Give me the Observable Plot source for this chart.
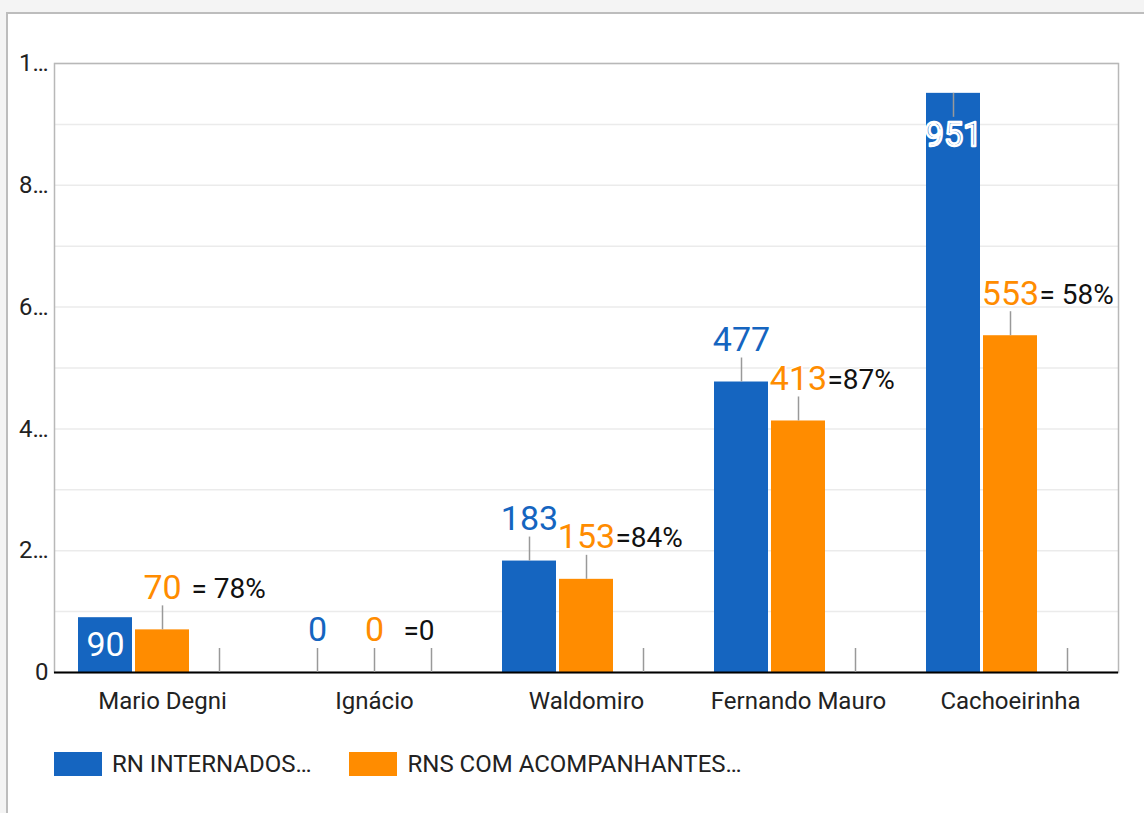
<!DOCTYPE html>
<html>
<head>
<meta charset="utf-8">
<script src="https://cdn.jsdelivr.net/npm/d3@7"></script>
<script src="https://cdn.jsdelivr.net/npm/@observablehq/plot@0.6"></script>
<style>
  html, body { margin: 0; padding: 0; background: #f4f4f4; font-family: Roboto, "Noto Sans", sans-serif; }
  #page { position: relative; width: 1144px; height: 813px; overflow: hidden; }
  #panel { position: absolute; left: 6px; top: 12px; width: 1200px; height: 900px; background: #fff;
           border-left: 2px solid #bdbdbd; border-top: 2px solid #bdbdbd; }
  #chart { position: absolute; left: 0; top: 0; }
  #legend { position: absolute; left: 54px; top: 752px; display: flex; align-items: center;
            font-size: 24px; color: #222; font-family: Roboto, sans-serif; }
  .sw { width: 48px; height: 24px; margin-right: 10px; }
  .item { display: flex; align-items: center; margin-right: 38px; line-height: 24px; }
</style>
</head>
<body>
<div id="page">
  <div id="panel"></div>
  <div id="chart"></div>
  <div id="legend"></div>
</div>
<script>
// ---- data ----
const groups = ["Mario Degni", "Ignácio", "Waldomiro", "Fernando Mauro", "Cachoeirinha"];
const internados = [90, 0, 183, 477, 951];
const acompanhantes = [70, 0, 153, 413, 553];
const ratioValues = [0, 0, 0, 0, 0];
const ratioLabels = ["= 78%", "=0", "=84%", "=87%", "= 58%"];
const seriesNames = ["RN INTERNADOS…", "RNS COM ACOMPANHANTES…"];
const yTicks = [0, 200, 400, 600, 800, 1000];
const yGrid = [100, 200, 300, 400, 500, 600, 700, 800, 900, 1000];

const BLUE = "#1565c0", ORANGE = "#ff8c00";

const blue = groups.map((g, i) => ({group: g, value: internados[i], other: acompanhantes[i]}));
const orange = groups.map((g, i) => ({group: g, value: acompanhantes[i]}));
const ratio = groups.map((g, i) => ({group: g, value: ratioValues[i], label: ratioLabels[i], anchorValue: acompanhantes[i]}));

// label placement rules (Google-style): no room above -> inside top; collides with neighbour -> centered inside
const insideTop = d => d.value >= 900;
const insideCenter = d => d.value > 0 && d.value - d.other < 25;
const blueAbove = blue.filter(d => !insideTop(d) && !insideCenter(d));
const blueTop = blue.filter(insideTop);
const blueCenter = blue.filter(insideCenter);

const STEP = 57, INSET = 79, STEM = 24, LDY = 42;

const chart = Plot.plot({
  width: 1144,
  height: 720,
  marginLeft: 54,
  marginRight: 26,
  marginTop: 63,
  marginBottom: 48,
  style: {fontFamily: "Roboto, sans-serif", fontSize: "24px", color: "#222", background: "transparent"},
  x: {domain: groups, padding: 0, label: null},
  y: {domain: [0, 1000], label: null},
  marks: [
    Plot.gridY(yGrid, {stroke: "#ebebeb", strokeOpacity: 1, strokeWidth: 1.5}),
    Plot.frame({stroke: "#b8b8b8", strokeWidth: 1.5}),
    Plot.axisY(yTicks, {tickSize: 0, tickPadding: 6, fontSize: 24, fill: "#222",
      tickFormat: d => d === 0 ? "0" : String(d)[0] + "…", label: null}),
    Plot.axisX({tickSize: 0, tickPadding: 19, fontSize: 24, fill: "#222", label: null}),
    // bars
    Plot.barY(blue, {x: "group", y: "value", fill: BLUE, insetLeft: INSET, insetRight: INSET, dx: -STEP}),
    Plot.barY(orange, {x: "group", y: "value", fill: ORANGE, insetLeft: INSET, insetRight: INSET}),
    Plot.ruleY([0], {stroke: "#000", strokeWidth: 2}),
    // stems
    Plot.ruleX(blueAbove, {x: "group", y1: "value", y2: "value", insetBottom: STEM, dx: -STEP, stroke: "#999", strokeWidth: 1.5}),
    Plot.ruleX(blueTop, {x: "group", y1: "value", y2: "value", insetTop: STEM, dx: -STEP, stroke: "#999", strokeWidth: 1.5}),
    Plot.ruleX(orange, {x: "group", y1: "value", y2: "value", insetBottom: STEM, stroke: "#999", strokeWidth: 1.5}),
    Plot.ruleX(ratio, {x: "group", y1: "value", y2: "value", insetBottom: STEM, dx: STEP, stroke: "#999", strokeWidth: 1.5}),
    // value labels
    Plot.text(blueAbove, {x: "group", y: "value", text: d => String(d.value), dx: -STEP, dy: -LDY,
      fill: BLUE, stroke: "#fff", strokeWidth: 3, fontSize: 34}),
    Plot.text(blueTop, {x: "group", y: "value", text: d => String(d.value), dx: -STEP, dy: LDY,
      fill: BLUE, stroke: "#fff", strokeWidth: 2.4, paintOrder: "normal", fontSize: 34}),
    Plot.text(blueCenter, {x: "group", y: d => d.value / 2, text: d => String(d.value), dx: -STEP,
      fill: "#fff", fontSize: 34}),
    Plot.text(orange, {x: "group", y: "value", text: d => String(d.value), dy: -LDY,
      fill: ORANGE, stroke: "#fff", strokeWidth: 3, fontSize: 34}),
    Plot.text(ratio, {x: "group", y: "anchorValue", text: "label", dx: 29, dy: -LDY + 1, textAnchor: "start",
      fill: "#111", stroke: "#fff", strokeWidth: 2, fontSize: 28})
  ]
});
document.getElementById("chart").appendChild(chart);

// legend
const legend = document.getElementById("legend");
[BLUE, ORANGE].forEach((c, i) => {
  const item = document.createElement("div");
  item.className = "item";
  const sw = document.createElement("div");
  sw.className = "sw";
  sw.style.background = c;
  const tx = document.createElement("span");
  tx.textContent = seriesNames[i];
  item.appendChild(sw);
  item.appendChild(tx);
  legend.appendChild(item);
});
</script>
</body>
</html>
